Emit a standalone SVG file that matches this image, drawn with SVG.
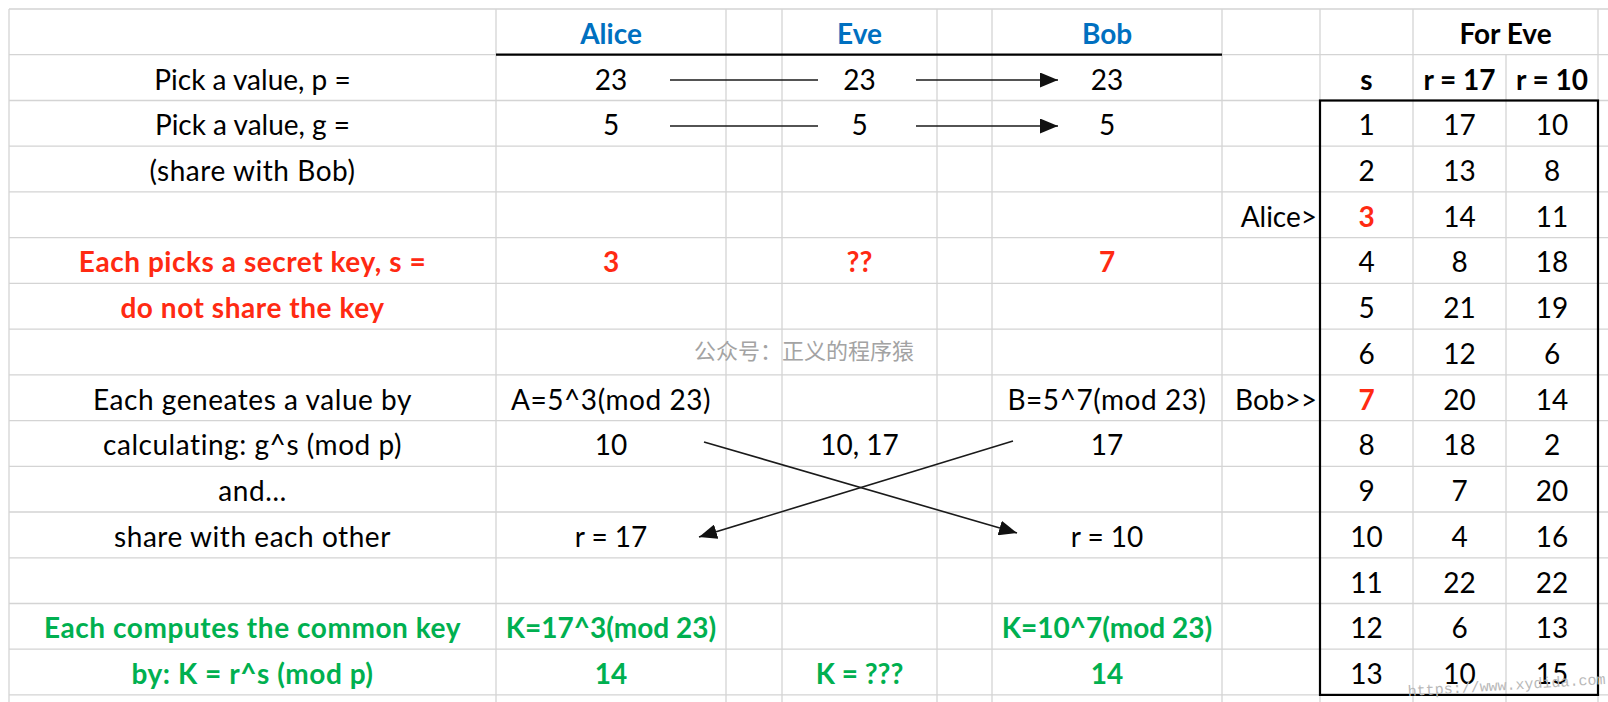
<svg xmlns="http://www.w3.org/2000/svg" width="1608" height="702" viewBox="0 0 1608 702">
<style>
.g{stroke:#d4d4d4;stroke-width:1.3;fill:none}
.k{stroke:#000;stroke-width:2.2;fill:none}
.c{stroke:#1a1a1a;stroke-width:1.6;fill:none}
text{font-family:Lato,"Liberation Sans",sans-serif;font-size:28px;fill:#000;text-anchor:middle}
.l{letter-spacing:0.55px}
.b{font-weight:bold}
.blue{fill:#0070C0}
.red{fill:#FF2A12}
.green{fill:#00B050}
.r{text-anchor:end}
.wm{font-family:"Noto Sans CJK SC",sans-serif;font-size:22px;fill:#a3a3a3}
.url{font-family:"Liberation Mono",monospace;font-size:15px;fill:#b8b8b8;text-anchor:start}
</style>
<defs>
<marker id="ah" markerUnits="userSpaceOnUse" markerWidth="18" markerHeight="15" viewBox="0 0 18 15" refX="18" refY="7.5" orient="auto">
<path d="M0,0 L18,7.5 L0,15 z" fill="#111"/>
</marker>
</defs>
<rect width="1608" height="702" fill="#fff"/>
<g id="grid">
<path class="g" d="M9,9H1608M9,54.7H1608M9,100.5H1608M9,146.2H1608M9,191.9H1608M9,237.7H1608M9,283.4H1608M9,329.1H1608M9,374.8H1608M9,420.6H1608M9,466.3H1608M9,512H1608M9,557.8H1608M9,603.5H1608M9,649.2H1608M9,694.9H1608"/>
<path class="g" d="M9,9V702M496,9V702M726,9V702M782,9V702M937,9V702M992,9V702M1222,9V702M1320,9V702M1413,9V702M1506,54.7V702M1598,9V702"/>
<path class="k" d="M496,54.7H1222"/>
<rect class="k" x="1320" y="100.5" width="278" height="594.4"/>
</g>
<g id="labels">
<text x="252.5" y="89.5">Pick a value, p =</text>
<text x="252.5" y="135.2">Pick a value, g =</text>
<text class="l" x="252.5" y="181">(share with Bob)</text>
<text class="l b red" x="252.5" y="272.4">Each picks a secret key, s =</text>
<text class="l b red" x="252.5" y="318.1">do not share the key</text>
<text class="l" x="252.5" y="409.6">Each geneates a value by</text>
<text class="l" x="252.5" y="455.3">calculating: g^s (mod p)</text>
<text class="l" x="252.5" y="501">and…</text>
<text class="l" x="252.5" y="546.8">share with each other</text>
<text class="l b green" x="252.5" y="638.2">Each computes the common key</text>
<text class="l b green" x="252.5" y="683.9">by: K = r^s (mod p)</text>
</g>
<g id="alice">
<text class="b blue" x="611" y="44">Alice</text>
<text x="611" y="89.5">23</text>
<text x="611" y="135.2">5</text>
<text class="b red" x="611" y="272.4">3</text>
<text class="l" x="611" y="409.6">A=5^3(mod 23)</text>
<text x="611" y="455.3">10</text>
<text x="611" y="546.8">r = 17</text>
<text class="b green" x="611" y="638.2">K=17^3(mod 23)</text>
<text class="b green" x="611" y="683.9">14</text>
</g>
<g id="eve">
<text class="b blue" x="859.5" y="44">Eve</text>
<text x="859.5" y="89.5">23</text>
<text x="859.5" y="135.2">5</text>
<text class="b red" x="859.5" y="272.4">??</text>
<text x="859.5" y="455.3">10, 17</text>
<text class="b green" x="859.5" y="683.9">K = ???</text>
</g>
<g id="bob">
<text class="b blue" x="1107" y="44">Bob</text>
<text x="1107" y="89.5">23</text>
<text x="1107" y="135.2">5</text>
<text class="b red" x="1107" y="272.4">7</text>
<text class="l" x="1107" y="409.6">B=5^7(mod 23)</text>
<text x="1107" y="455.3">17</text>
<text x="1107" y="546.8">r = 10</text>
<text class="b green" x="1107" y="638.2">K=10^7(mod 23)</text>
<text class="b green" x="1107" y="683.9">14</text>
</g>
<g id="pointers">
<text class="r" x="1317" y="226.7">Alice&gt;</text>
<text class="r" x="1317" y="409.6">Bob&gt;&gt;</text>
</g>
<g id="connectors">
<path class="c" d="M670,80H818"/>
<path class="c" d="M916,80H1058" marker-end="url(#ah)"/>
<path class="c" d="M670,126H818"/>
<path class="c" d="M916,126H1058" marker-end="url(#ah)"/>
<path class="c" d="M704,442L1017,533" marker-end="url(#ah)"/>
<path class="c" d="M1013,441L699,537" marker-end="url(#ah)"/>
</g>
<g id="eve-table">
<text class="b" x="1505.5" y="44">For Eve</text>
<text class="b" x="1366.5" y="89.5">s</text>
<text class="b" x="1459.5" y="89.5">r = 17</text>
<text class="b" x="1552" y="89.5">r = 10</text>
<text x="1366.5" y="135.2">1</text><text x="1459.5" y="135.2">17</text><text x="1552" y="135.2">10</text>
<text x="1366.5" y="181">2</text><text x="1459.5" y="181">13</text><text x="1552" y="181">8</text>
<text class="b red" x="1366.5" y="226.7">3</text><text x="1459.5" y="226.7">14</text><text x="1552" y="226.7">11</text>
<text x="1366.5" y="272.4">4</text><text x="1459.5" y="272.4">8</text><text x="1552" y="272.4">18</text>
<text x="1366.5" y="318.1">5</text><text x="1459.5" y="318.1">21</text><text x="1552" y="318.1">19</text>
<text x="1366.5" y="363.9">6</text><text x="1459.5" y="363.9">12</text><text x="1552" y="363.9">6</text>
<text class="b red" x="1366.5" y="409.6">7</text><text x="1459.5" y="409.6">20</text><text x="1552" y="409.6">14</text>
<text x="1366.5" y="455.3">8</text><text x="1459.5" y="455.3">18</text><text x="1552" y="455.3">2</text>
<text x="1366.5" y="501">9</text><text x="1459.5" y="501">7</text><text x="1552" y="501">20</text>
<text x="1366.5" y="546.8">10</text><text x="1459.5" y="546.8">4</text><text x="1552" y="546.8">16</text>
<text x="1366.5" y="592.5">11</text><text x="1459.5" y="592.5">22</text><text x="1552" y="592.5">22</text>
<text x="1366.5" y="638.2">12</text><text x="1459.5" y="638.2">6</text><text x="1552" y="638.2">13</text>
<text x="1366.5" y="683.9">13</text><text x="1459.5" y="683.9">10</text><text x="1552" y="683.9">15</text>
</g>
<g id="watermarks">
<text class="wm" x="804" y="359">公众号：正义的程序猿</text>
<text class="url" x="1408" y="696" transform="rotate(-3.5 1408 696)">https://www.xydida.com</text>
</g>
</svg>
